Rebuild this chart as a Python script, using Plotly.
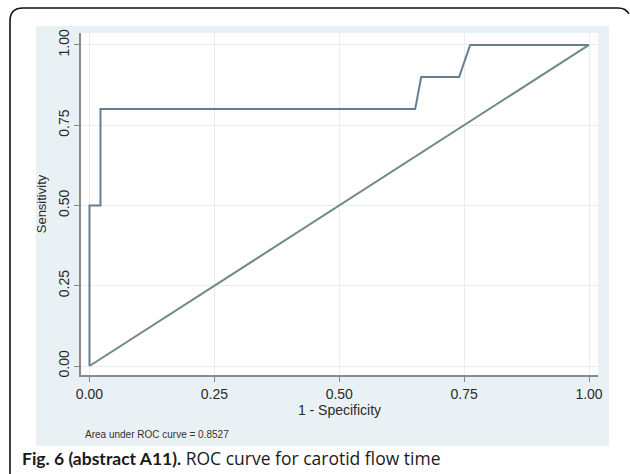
import plotly.graph_objects as go

# ROC curve points (1 - specificity, sensitivity)
fpr = [0.0, 0.0, 0.022, 0.022, 0.652, 0.664, 0.740, 0.762, 1.0]
tpr = [0.0, 0.5, 0.5, 0.8, 0.8, 0.9, 0.9, 1.0, 1.0]
ref_x = [0.0, 1.0]
ref_y = [0.0, 1.0]
tick_vals = [0, 0.25, 0.5, 0.75, 1.0]
tick_text = ["0.00", "0.25", "0.50", "0.75", "1.00"]
auc_text = "Area under ROC curve = 0.8527"
caption_bold = "Fig. 6 (abstract A11)."
caption_rest = "ROC curve for carotid flow time"

W, H = 630, 474
L, R, T, B = 81, 32, 33, 99
PW, PH = W - L - R, H - T - B


def px(x):
    return (x - L) / PW


def py(y):
    return (H - B - y) / PH


fig = go.Figure()
fig.add_trace(go.Scatter(x=fpr, y=tpr, mode="lines",
                         line=dict(color="#687d8d", width=2), hoverinfo="skip"))
fig.add_trace(go.Scatter(x=ref_x, y=ref_y, mode="lines",
                         line=dict(color="#6f8a83", width=2), hoverinfo="skip"))

shapes = [
    dict(type="rect", xref="paper", yref="paper", layer="below",
         x0=px(36), x1=px(609), y0=py(446), y1=py(26),
         fillcolor="#eaf1f4", line=dict(width=0)),
    dict(type="rect", xref="paper", yref="paper", layer="below",
         x0=px(81), x1=px(598), y0=py(375), y1=py(33),
         fillcolor="white", line=dict(width=0)),
    dict(type="path", xref="paper", yref="paper", layer="above",
         path=(f"M {px(10)},{py(474)} L {px(10)},{py(21)} "
               f"Q {px(10)},{py(8)} {px(23)},{py(8)} L {px(618)},{py(8)} "
               f"Q {px(626)},{py(8)} {px(629)},{py(14)}"),
         line=dict(color="#111111", width=1.6)),
]

annotations = [
    dict(text=auc_text, xref="paper", yref="paper", x=px(83), y=py(434),
         xanchor="left", yanchor="middle", showarrow=False,
         font=dict(family="Liberation Sans, Arial", size=10, color="#333333")),
    dict(text=(f"<b>{caption_bold}</b> "
               f"<span style='font-family:Open Sans'>{caption_rest}</span>"),
         xref="paper", yref="paper",
         x=px(20), y=py(458), xanchor="left", yanchor="middle", showarrow=False,
         font=dict(family="Lato, Noto Sans", size=17.5, color="#1a1a1a")),
]

axis_common = dict(
    tickvals=tick_vals, ticktext=tick_text, ticks="outside", ticklen=5,
    tickwidth=1, tickcolor="#8a8a8a", showline=True, linecolor="#8a8a8a",
    linewidth=1.5, showgrid=True, gridcolor="#ececec", gridwidth=1,
    zeroline=False, tickfont=dict(family="Liberation Sans, Arial", size=14, color="#2a2a2a"),
    mirror=False,
)

fig.update_layout(
    width=W, height=H, margin=dict(l=L, r=R, t=T, b=B),
    paper_bgcolor="white", plot_bgcolor="white", showlegend=False,
    shapes=shapes, annotations=annotations,
    xaxis=dict(range=[-0.017, 1.018], title=dict(text="1 - Specificity", standoff=4,
               font=dict(family="Liberation Sans, Arial", size=14, color="#2a2a2a")),
               **axis_common),
    yaxis=dict(range=[-0.028, 1.037], tickangle=-90,
               title=dict(text="Sensitivity", standoff=6,
                          font=dict(family="Liberation Sans, Arial", size=13, color="#2a2a2a")),
               **axis_common),
)

fig.write_html("out.html", config={"displayModeBar": False},
               post_script="document.body.style.margin='0';document.body.style.overflow='hidden';")
